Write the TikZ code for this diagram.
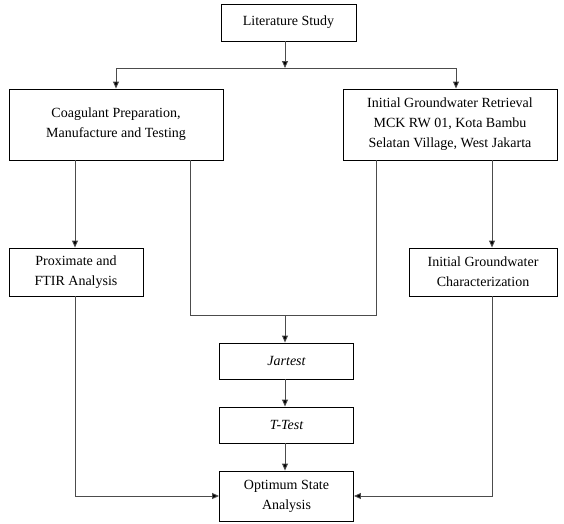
\documentclass[tikz,border=0pt]{standalone}
\usepackage{fontspec}
\setmainfont{Liberation Serif}
\usetikzlibrary{arrows.meta}
\begin{document}
\begin{tikzpicture}[x=1pt,y=-1pt,
  box/.style={draw=black,line width=0.9pt,fill=white,align=center,inner sep=0pt,
    font=\fontsize{14}{20}\selectfont},
  conn/.style={draw=black!70,line width=0.9pt},
  arr/.style={conn,-{Triangle[length=7pt,width=6pt,fill=black]}}]
\useasboundingbox (0,0) rectangle (564,523);
\node[box,minimum width=135pt,minimum height=37pt] (lit) at (288.5,22.5) {Literature Study};
\node[box,minimum width=214pt,minimum height=71pt] (coag) at (116,124.5) {Coagulant Preparation,\\Manufacture and Testing};
\node[box,minimum width=214pt,minimum height=71pt] (gw) at (450,124.5) {Initial Groundwater Retrieval\\MCK RW 01, Kota Bambu\\Selatan Village, West Jakarta};
\node[box,minimum width=134pt,minimum height=48pt] (prox) at (76,272) {Proximate and\\FTIR Analysis};
\node[box,minimum width=148pt,minimum height=48pt] (char) at (483,272) {Initial Groundwater\\Characterization};
\node[box,minimum width=134pt,minimum height=36pt] (jar) at (286.5,361) {\itshape Jartest};
\node[box,minimum width=134pt,minimum height=36pt] (tt) at (286.5,425) {\itshape T-Test};
\node[box,minimum width=134pt,minimum height=50pt] (opt) at (286.5,496) {Optimum State\\Analysis};
\coordinate (split) at (285,68);
\coordinate (join) at (285,315);
\draw[arr] (lit.south -| split) -- (split);
\draw[arr] (split) -| (coag.north);
\draw[arr] (split) -| (456,89.5 |- gw.north);
\draw[arr] (75,0 |- coag.south) -- (75,0 |- prox.north);
\draw[conn] (190.6,0 |- coag.south) |- (join);
\draw[conn] (376.6,0 |- gw.south) |- (join);
\draw[arr] (join) -- (join |- jar.north);
\draw[arr] (492,0 |- gw.south) -- (492,0 |- char.north);
\draw[arr] (jar.south -| join) -- (tt.north -| join);
\draw[arr] (tt.south -| join) -- (opt.north -| join);
\draw[arr] (75,0 |- prox.south) |- (opt.west);
\draw[arr] (492,0 |- char.south) |- (opt.east);
\end{tikzpicture}
\end{document}
